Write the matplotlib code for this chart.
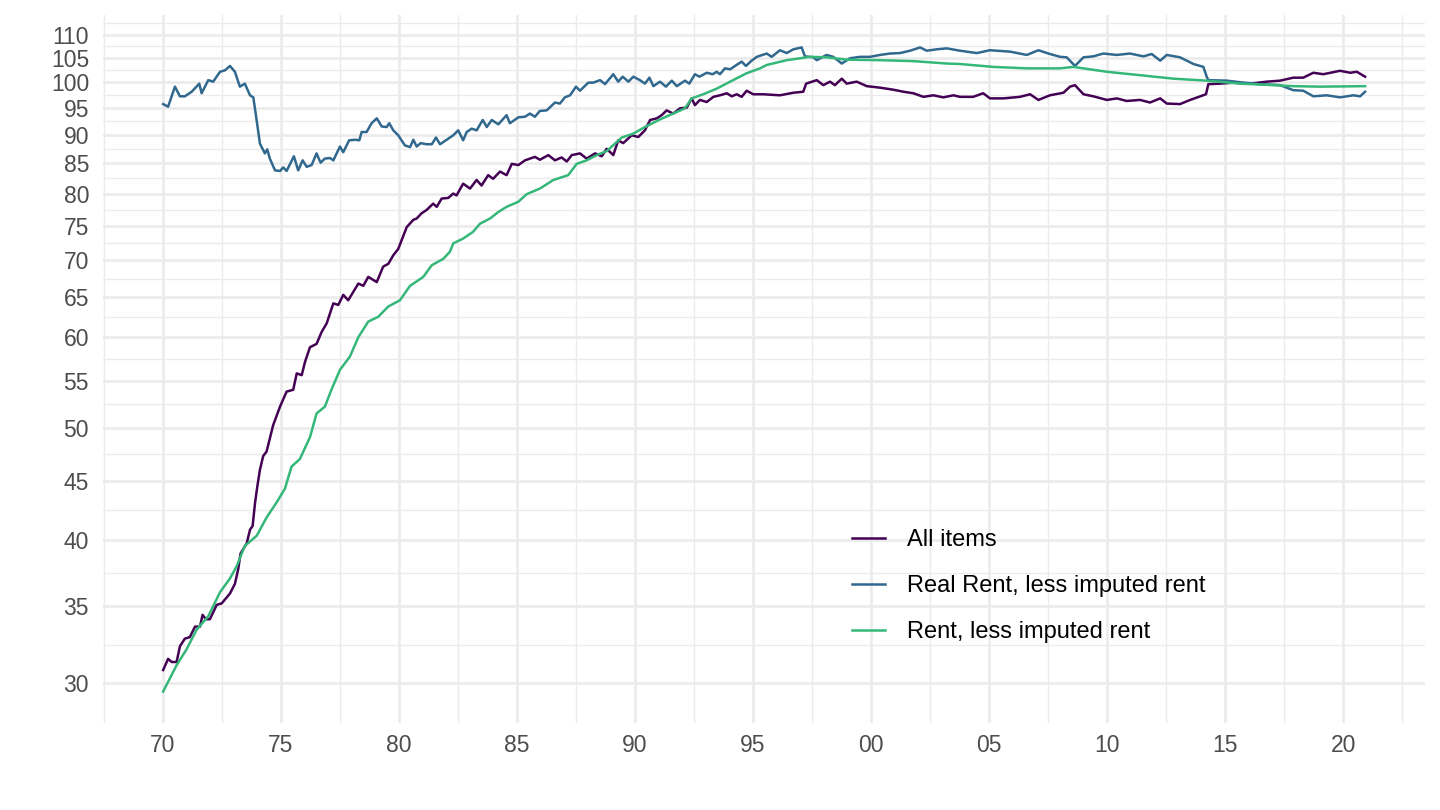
import matplotlib
matplotlib.use("Agg")
import matplotlib.pyplot as plt
from matplotlib.ticker import NullFormatter
import numpy as np

# series (decimal year, index value)
all_years = [1970.01, 1970.22, 1970.37, 1970.58, 1970.72, 1970.93, 1971.14, 1971.36, 1971.57, 1971.68,
             1971.82, 1971.99, 1972.28, 1972.49, 1972.84, 1973.05, 1973.19, 1973.29, 1973.55, 1973.69,
             1973.80, 1973.90, 1974.00, 1974.11, 1974.25, 1974.39, 1974.53, 1974.67, 1974.96, 1975.24,
             1975.52, 1975.67, 1975.88, 1976.02, 1976.23, 1976.51, 1976.72, 1976.94, 1977.22, 1977.43,
             1977.64, 1977.85, 1978.28, 1978.49, 1978.70, 1979.06, 1979.33, 1979.55, 1979.76, 1979.97,
             1980.33, 1980.61, 1980.75, 1980.96, 1981.17, 1981.45, 1981.60, 1981.81, 1982.09, 1982.30,
             1982.44, 1982.72, 1983.01, 1983.29, 1983.50, 1983.78, 1983.99, 1984.28, 1984.56, 1984.78,
             1985.06, 1985.34, 1985.76, 1985.97, 1986.33, 1986.61, 1986.89, 1987.11, 1987.32, 1987.67,
             1987.95, 1988.31, 1988.59, 1988.80, 1989.08, 1989.29, 1989.50, 1989.86, 1990.14, 1990.42,
             1990.64, 1990.92, 1991.13, 1991.34, 1991.62, 1991.91, 1992.19, 1992.40, 1992.54, 1992.75,
             1993.04, 1993.32, 1993.60, 1993.89, 1994.10, 1994.31, 1994.52, 1994.73, 1995.01, 1995.44,
             1996.14, 1996.71, 1997.13, 1997.25, 1997.70, 1997.98, 1998.26, 1998.47, 1998.76, 1998.97,
             1999.39, 1999.82, 2000.38, 2000.94, 2001.37, 2001.79, 2002.22, 2002.64, 2003.06, 2003.49,
             2003.77, 2004.33, 2004.75, 2005.04, 2005.61, 2006.31, 2006.74, 2007.09, 2007.58, 2008.15,
             2008.43, 2008.64, 2009.00, 2009.42, 2009.99, 2010.41, 2010.83, 2011.40, 2011.82, 2012.25,
             2012.53, 2013.09, 2013.52, 2013.94, 2014.19, 2014.29, 2014.79, 2015.35, 2016.06, 2016.77,
             2017.33, 2017.89, 2018.31, 2018.74, 2019.16, 2019.87, 2020.30, 2020.58, 2020.93]
all_items = [30.8, 31.5, 31.3, 31.3, 32.3, 32.8, 32.9, 33.6, 33.6, 34.4,
             34.1, 34.1, 35.1, 35.2, 35.9, 36.6, 37.7, 38.9, 39.7, 40.8,
             41.1, 43.0, 44.5, 46.0, 47.3, 47.7, 49.0, 50.3, 52.2, 53.8,
             54.0, 55.8, 55.6, 57.1, 58.8, 59.2, 60.6, 61.7, 64.2, 64.0,
             65.3, 64.6, 66.8, 66.5, 67.7, 67.0, 69.1, 69.5, 70.7, 71.6,
             74.8, 75.9, 76.1, 76.9, 77.4, 78.4, 77.9, 79.2, 79.3, 80.0,
             79.7, 81.6, 80.8, 82.2, 81.3, 83.0, 82.4, 83.6, 83.0, 84.9,
             84.7, 85.5, 86.1, 85.6, 86.4, 85.5, 86.0, 85.3, 86.4, 86.7,
             85.8, 86.7, 86.2, 87.5, 86.4, 89.0, 88.5, 89.9, 89.6, 90.8,
             92.7, 93.0, 93.6, 94.5, 93.9, 94.9, 95.0, 96.8, 95.5, 96.5,
             96.1, 97.1, 97.4, 97.8, 97.2, 97.6, 97.1, 98.3, 97.6, 97.6,
             97.4, 97.9, 98.1, 99.7, 100.4, 99.4, 100.1, 99.4, 100.7, 99.7,
             100.1, 99.2, 98.9, 98.5, 98.1, 97.8, 97.1, 97.4, 97.0, 97.4,
             97.1, 97.1, 97.8, 96.8, 96.8, 97.1, 97.6, 96.5, 97.4, 97.9,
             99.1, 99.4, 97.6, 97.2, 96.5, 96.8, 96.3, 96.5, 96.0, 96.8,
             95.8, 95.7, 96.5, 97.2, 97.6, 99.6, 99.7, 99.9, 99.7, 100.1,
             100.3, 100.9, 100.9, 101.9, 101.6, 102.3, 101.9, 102.1, 101.1]

real_years = [1970.01, 1970.22, 1970.51, 1970.72, 1970.93, 1971.22, 1971.54, 1971.64, 1971.92, 1972.13,
              1972.42, 1972.63, 1972.84, 1973.05, 1973.26, 1973.47, 1973.69, 1973.83, 1973.97, 1974.11,
              1974.32, 1974.42, 1974.53, 1974.75, 1974.96, 1975.10, 1975.24, 1975.55, 1975.73, 1975.92,
              1976.09, 1976.30, 1976.51, 1976.68, 1976.86, 1977.08, 1977.22, 1977.50, 1977.64, 1977.89,
              1978.14, 1978.32, 1978.42, 1978.63, 1978.84, 1979.06, 1979.27, 1979.48, 1979.59, 1979.76,
              1979.97, 1980.25, 1980.47, 1980.61, 1980.75, 1980.92, 1981.17, 1981.39, 1981.57, 1981.74,
              1982.09, 1982.30, 1982.51, 1982.72, 1982.87, 1983.08, 1983.29, 1983.55, 1983.72, 1983.93,
              1984.21, 1984.56, 1984.70, 1985.06, 1985.34, 1985.55, 1985.76, 1985.97, 1986.26, 1986.61,
              1986.82, 1987.03, 1987.25, 1987.50, 1987.67, 1988.02, 1988.23, 1988.52, 1988.73, 1989.08,
              1989.29, 1989.48, 1989.72, 1989.93, 1990.21, 1990.42, 1990.61, 1990.78, 1991.06, 1991.31,
              1991.56, 1991.77, 1992.12, 1992.30, 1992.54, 1992.73, 1993.04, 1993.29, 1993.46, 1993.60,
              1993.81, 1994.03, 1994.24, 1994.52, 1994.70, 1994.94, 1995.16, 1995.58, 1995.79, 1996.14,
              1996.43, 1996.71, 1997.06, 1997.20, 1997.56, 1997.70, 1998.12, 1998.40, 1998.76, 1999.11,
              1999.53, 1999.96, 2000.38, 2000.81, 2001.23, 2001.65, 2002.08, 2002.36, 2002.78, 2003.21,
              2003.77, 2004.48, 2005.04, 2005.89, 2006.60, 2007.09, 2007.58, 2008.01, 2008.29, 2008.64,
              2009.00, 2009.42, 2009.84, 2010.41, 2010.97, 2011.54, 2011.89, 2012.25, 2012.53, 2013.09,
              2013.66, 2014.08, 2014.22, 2014.29, 2015.07, 2015.78, 2016.48, 2017.33, 2017.89, 2018.31,
              2018.74, 2019.30, 2019.87, 2020.44, 2020.72, 2020.93]
real_rent = [95.7, 95.2, 99.1, 97.2, 97.2, 98.1, 99.7, 97.8, 100.4, 100.1,
             102.1, 102.4, 103.3, 102.1, 99.1, 99.7, 97.4, 97.0, 92.7, 88.4,
             86.7, 87.4, 85.8, 83.8, 83.7, 84.3, 83.7, 86.2, 83.8, 85.5,
             84.4, 84.7, 86.7, 85.1, 85.8, 85.9, 85.5, 87.9, 86.9, 89.0,
             89.1, 89.0, 90.5, 90.5, 92.1, 93.0, 91.5, 91.4, 92.1, 90.8,
             89.9, 88.1, 87.8, 89.1, 87.9, 88.5, 88.3, 88.3, 89.5, 88.3,
             89.3, 89.9, 90.8, 89.0, 90.5, 91.1, 90.8, 92.7, 91.4, 92.7,
             91.9, 93.6, 92.1, 93.2, 93.3, 93.9, 93.3, 94.4, 94.5, 96.0,
             95.8, 97.0, 97.4, 99.1, 98.3, 99.9, 99.9, 100.4, 99.6, 101.6,
             100.1, 101.1, 100.1, 101.1, 100.4, 99.7, 100.9, 99.2, 100.1, 99.1,
             100.3, 99.2, 100.3, 99.7, 101.6, 101.1, 101.9, 101.6, 102.1, 101.6,
             102.8, 102.6, 103.3, 104.2, 103.3, 104.4, 105.2, 105.9, 105.2, 106.6,
             106.0, 106.8, 107.2, 105.3, 105.1, 104.5, 105.6, 105.2, 103.8, 104.9,
             105.2, 105.2, 105.6, 105.9, 106.0, 106.5, 107.2, 106.5, 106.8, 107.0,
             106.5, 106.0, 106.6, 106.3, 105.6, 106.6, 105.8, 105.2, 105.1, 103.3,
             105.1, 105.3, 105.9, 105.6, 105.9, 105.3, 105.8, 104.4, 105.6, 105.1,
             103.7, 103.1, 101.1, 100.4, 100.3, 99.9, 99.6, 99.4, 98.4, 98.3,
             97.2, 97.4, 97.0, 97.4, 97.2, 98.1]

rent_years = [1970.01, 1970.58, 1971.00, 1971.43, 1971.92, 1972.42, 1972.84, 1973.12, 1973.47, 1973.97,
              1974.39, 1974.82, 1975.17, 1975.45, 1975.80, 1976.23, 1976.51, 1976.86, 1977.14, 1977.50,
              1977.92, 1978.28, 1978.70, 1979.12, 1979.55, 1980.04, 1980.47, 1981.03, 1981.39, 1981.88,
              1982.16, 1982.30, 1982.72, 1983.14, 1983.43, 1983.86, 1984.21, 1984.56, 1985.06, 1985.41,
              1985.97, 1986.54, 1987.17, 1987.53, 1987.95, 1988.38, 1988.80, 1989.44, 1989.93, 1990.42,
              1991.06, 1991.62, 1992.12, 1992.40, 1992.89, 1993.46, 1994.03, 1994.73, 1995.30, 1995.58,
              1996.43, 1997.42, 1998.12, 1998.97, 2000.38, 2001.79, 2003.21, 2003.77, 2005.18, 2006.60,
              2008.01, 2008.57, 2009.99, 2011.40, 2012.81, 2014.22, 2015.63, 2017.05, 2017.89, 2019.02,
              2020.93]
rent = [29.5, 31.1, 32.1, 33.4, 34.3, 36.0, 37.0, 37.9, 39.5, 40.3,
        41.8, 43.1, 44.3, 46.3, 47.0, 49.1, 51.5, 52.2, 54.0, 56.2,
        57.7, 60.0, 61.9, 62.5, 63.8, 64.6, 66.5, 67.7, 69.3, 70.2,
        71.2, 72.4, 73.1, 74.1, 75.3, 76.1, 77.1, 77.9, 78.7, 79.9,
        80.8, 82.2, 83.0, 84.9, 85.5, 86.4, 87.1, 89.5, 90.2, 91.4,
        92.8, 93.9, 94.9, 96.8, 97.6, 98.7, 100.1, 101.8, 102.8, 103.5,
        104.5, 105.2, 105.1, 104.6, 104.5, 104.3, 103.8, 103.7, 103.1, 102.8,
        102.8, 103.1, 102.1, 101.4, 100.7, 100.3, 99.7, 99.4, 99.2, 99.1,
        99.2]

labels = ["All items", "Real Rent, less imputed rent", "Rent, less imputed rent"]
colors = ["#440154", "#31688E", "#35B779"]

y_ticks = [30, 35, 40, 45, 50, 55, 60, 65, 70, 75, 80, 85, 90, 95, 100, 105, 110]
x_ticks = list(range(1970, 2021, 5))
x_labels = ["%02d" % (y % 100) for y in x_ticks]

plt.rcParams["font.family"] = ["Liberation Sans", "DejaVu Sans"]

fig = plt.figure(figsize=(14.4, 8.1), dpi=100)
ax = fig.add_axes([0.0715, 0.1074, 0.9181, 0.8741])

ax.plot(all_years, all_items, color=colors[0], lw=1.8, label=labels[0])
ax.plot(real_years, real_rent, color=colors[1], lw=1.8, label=labels[1])
ax.plot(rent_years, rent, color=colors[2], lw=1.8, label=labels[2])

ax.set_yscale("log")
ax.set_ylim(27.7, 114.4)
ax.set_xlim(1967.46, 2023.47)

ax.set_yticks(y_ticks)
ax.set_yticklabels([str(v) for v in y_ticks])
y_edges = y_ticks + [115]
y_minor = [np.sqrt(y_edges[i] * y_edges[i + 1]) for i in range(len(y_edges) - 1)]
ax.set_yticks(y_minor, minor=True)
ax.yaxis.set_minor_formatter(NullFormatter())
ax.set_xticks(x_ticks)
ax.set_xticklabels(x_labels)
ax.set_xticks([x - 2.5 for x in x_ticks] + [2022.5], minor=True)

ax.grid(which="major", color="#EBEBEB", lw=1.9)
ax.grid(which="minor", color="#EBEBEB", lw=1.0)
ax.set_axisbelow(True)
for s in ax.spines.values():
    s.set_visible(False)
ax.tick_params(which="both", length=0)
ax.tick_params(axis="y", labelsize=16.5, labelcolor="#4D4D4D", pad=10)
ax.tick_params(axis="x", labelsize=16.5, labelcolor="#4D4D4D", pad=8)

ax.legend(loc="center left", bbox_to_anchor=(0.5666, 0.193), frameon=False,
          fontsize=17, handlelength=1.4, handletextpad=0.93, labelspacing=1.02,
          borderpad=0, borderaxespad=0)

fig.savefig("out.png", dpi=100)
